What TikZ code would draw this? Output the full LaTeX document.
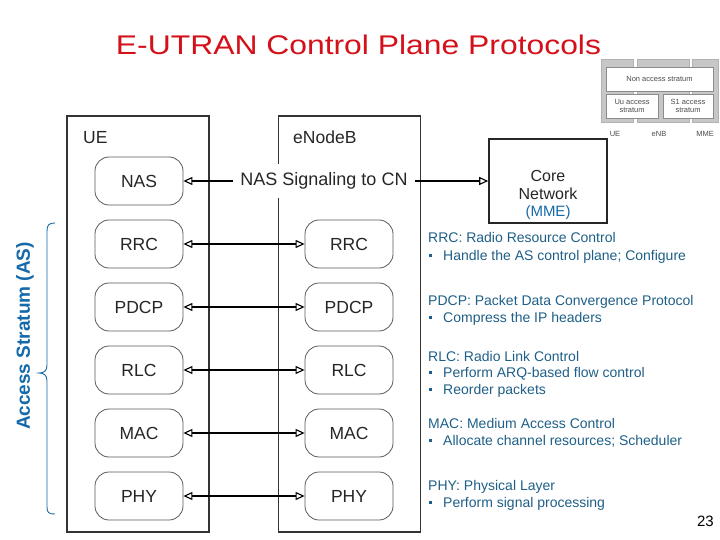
\documentclass[tikz,border=0pt]{standalone}
\usepackage{fontspec}
\setmainfont{Liberation Sans}
\usetikzlibrary{arrows.meta}
\definecolor{titlered}{RGB}{212,16,26}
\definecolor{noteblue}{RGB}{30,95,135}
\definecolor{asblue}{RGB}{20,105,170}
\definecolor{boxgray}{RGB}{90,90,90}
\newcommand{\sqbul}{\hspace*{1pt}\rule[3pt]{3pt}{3pt}\hspace{11pt}}
\newcommand{\fs}[1]{\fontsize{#1}{1.25\dimexpr#1pt\relax}\selectfont}

\begin{document}
\begin{tikzpicture}[x=1pt, y=-1pt,
  hostbox/.style={draw=black!80, line width=1.4pt, minimum width=142pt, minimum height=416pt, inner sep=0pt},
  layerbox/.style={draw=boxgray, line width=0.8pt, rounded corners=14pt, minimum width=88pt, minimum height=48pt, fill=white, text=black!85, font=\fs{17.5}},
  peer/.style={line width=1.1pt, {Triangle[open,length=9pt,width=8pt]}-{Triangle[open,length=9pt,width=8pt]}},
  sig/.style={line width=1.1pt, -{Triangle[open,length=9pt,width=8pt]}},
  note/.style={anchor=base west, inner sep=0pt, text=noteblue, font=\fs{14}},
  thumbcol/.style={fill=black!22, draw=black!30, line width=0.4pt},
  thumbbox/.style={draw=black!45, fill=white, line width=0.5pt, inner sep=0pt, align=center, text=black!70, font=\fontsize{7.5}{8.5}\selectfont},
  thumblbl/.style={inner sep=0pt, text=black!70, font=\fontsize{7.5}{8.5}\selectfont}]
\useasboundingbox (0,0) rectangle (720,540);

% title
\node[anchor=base, text=titlered, font=\fs{27}] (title) at (358.5,55) {\scalebox{1.18}[1]{E-UTRAN Control Plane Protocols}};

% small overview picture
\fill[thumbcol] (601,59) rectangle (633,122);
\fill[thumbcol] (637,59) rectangle (689,122);
\fill[thumbcol] (692,59) rectangle (718,122);
\node[thumbbox, minimum width=107pt, minimum height=24pt] (tnas) at (659.5,79) {Non access stratum};
\node[thumbbox, minimum width=52pt, minimum height=24pt] (tuu) at (632,106) {Uu access\\stratum};
\node[thumbbox, minimum width=50pt, minimum height=24pt] (ts1) at (688,106) {S1 access\\stratum};
\node[thumblbl] (tue) at (615,134) {UE};
\node[thumblbl] (tenb) at (659,134) {eNB};
\node[thumblbl] (tmme) at (705,134) {MME};

% UE and eNodeB
\node[hostbox] (ue) at (138,324) {};
\node[hostbox] (enb) at (349.5,324) {};
\node[anchor=base west, inner sep=0pt, text=black!85, font=\fs{17.5}] (uelbl) at (83,144) {UE};
\node[anchor=base west, inner sep=0pt, text=black!85, font=\fs{17.5}] (enblbl) at (293,144) {eNodeB};

\node[layerbox] (ue-nas) at (139,181) {NAS};
\foreach \name/\lbl/\yy in {rrc/RRC/244, pdcp/PDCP/307, rlc/RLC/370, mac/MAC/433, phy/PHY/496} {
  \node[layerbox] (ue-\name) at (139,\yy) {\lbl};
  \node[layerbox] (enb-\name) at (349,\yy) {\lbl};
  \draw[peer] (ue-\name) -- (enb-\name);
}

% core network
\node[draw=black!85, line width=1.6pt, minimum width=118pt, minimum height=84pt] (core) at (548,181) {};
\node[anchor=base, inner sep=0pt, text=black!85, font=\fs{16}] (corelbl) at (548,182) {Core};
\node[anchor=base, inner sep=0pt, text=black!85, font=\fs{16}] (netlbl) at (548,200) {Network};
\node[anchor=base, inner sep=0pt, text=asblue, font=\fs{15}] (mmelbl) at (548,217) {(MME)};

\node[fill=white, inner xsep=7pt, inner ysep=9pt, text=black!85, font=\fs{18}] (nassig) at (324,181) {NAS Signaling to CN};
\draw[sig] (nassig) -- (ue-nas);
\draw[sig] (nassig) -- (core);

% notes
\node[note] (n-rrc) at (428,243) {RRC: Radio Resource Control};
\node[note] (n-rrc1) at (428,260) {\sqbul Handle the AS control plane; Configure};
\node[note] (n-pdcp) at (428,305) {PDCP: Packet Data Convergence Protocol};
\node[note] (n-pdcp1) at (428,322) {\sqbul Compress the IP headers};
\node[note] (n-rlc) at (428,361) {RLC: Radio Link Control};
\node[note] (n-rlc1) at (428,377) {\sqbul Perform ARQ-based flow control};
\node[note] (n-rlc2) at (428,394) {\sqbul Reorder packets};
\node[note] (n-mac) at (428,428) {MAC: Medium Access Control};
\node[note] (n-mac1) at (428,445) {\sqbul Allocate channel resources; Scheduler};
\node[note] (n-phy) at (428,490) {PHY: Physical Layer};
\node[note] (n-phy1) at (428,507) {\sqbul Perform signal processing};

% access stratum
\draw[asblue, line width=0.9pt] (55,223) .. controls (49,223) and (47,225) .. (47,231) -- (47,365)
  .. controls (47,371) and (44,373) .. (39,373) .. controls (44,373) and (47,375) .. (47,381)
  -- (47,507) .. controls (47,513) and (49,514) .. (55,514);
\node[rotate=90, text=asblue, font=\bfseries\fs{19}] (aslbl) at (25,336) {Access Stratum (AS)};

\node[anchor=base east, inner sep=0pt, font=\fs{15}] (pgnum) at (714,526) {23};
\end{tikzpicture}
\end{document}
